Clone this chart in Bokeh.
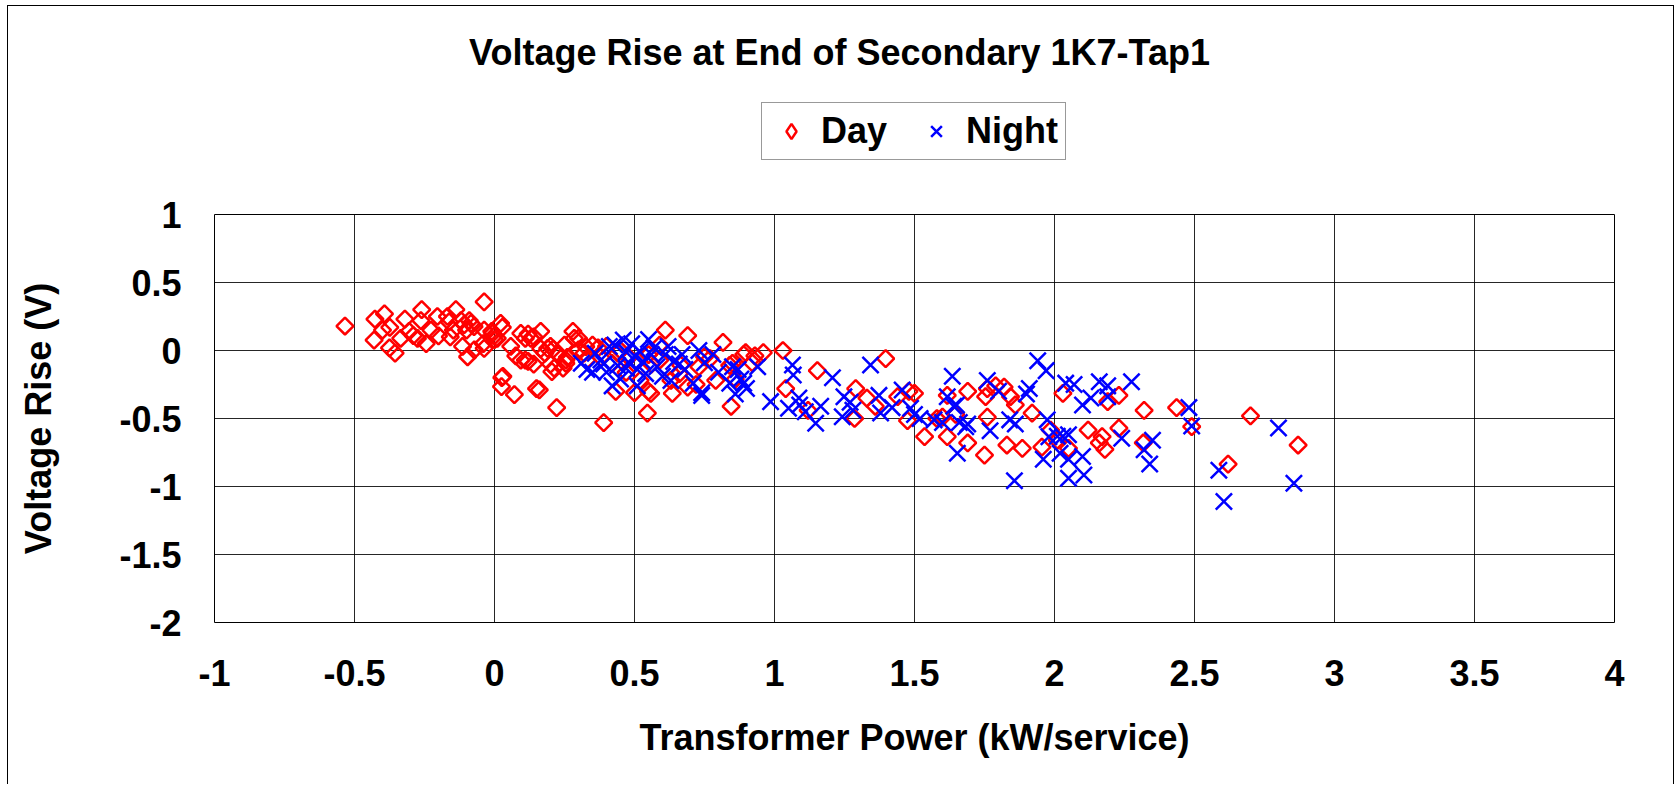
import math
from bokeh.plotting import figure
from bokeh.layouts import column
from bokeh.models import FixedTicker, CustomJSTickFormatter, Legend, LegendItem, Label
from bokeh.embed import file_html
from bokeh.resources import INLINE

# ---------------- data ----------------
title_text = "Voltage Rise at End of Secondary 1K7-Tap1"
x_title = "Transformer Power (kW/service)"
y_title = "Voltage Rise (V)"
series_names = ["Day", "Night"]

x_ticks = [-1, -0.5, 0, 0.5, 1, 1.5, 2, 2.5, 3, 3.5, 4]
x_tick_labels = ["-1", "-0.5", "0", "0.5", "1", "1.5", "2", "2.5", "3", "3.5", "4"]
y_ticks = [-2, -1.5, -1, -0.5, 0, 0.5, 1]
y_tick_labels = ["-2", "-1.5", "-1", "-0.5", "0", "0.5", "1"]

day_x = [-0.534, -0.427, -0.393, -0.43, -0.40, -0.374, -0.375, -0.355, -0.32, -0.335,
         -0.305, -0.29, -0.26, -0.263, -0.275, -0.244, -0.227, -0.204, -0.20, -0.168,
         -0.158, -0.162, -0.147, -0.138, -0.12, -0.108, -0.114, -0.10, -0.096, -0.09,
         -0.084, -0.073, -0.072, -0.04, -0.037, -0.037, -0.037, -0.01, -0.007,
         0.0, 0.01, 0.022, 0.028, 0.0, 0.026, 0.025, 0.071, 0.058, 0.076, 0.094,
         0.11, 0.094, 0.11, 0.12, 0.13, 0.14, 0.14, 0.16, 0.165, 0.165,
         0.18, 0.19, 0.20, 0.20, 0.205, 0.213, 0.222, 0.21, 0.226, 0.25,
         0.255, 0.245, 0.26, 0.28, 0.285, 0.30, 0.30, 0.255, 0.12, 0.15, 0.03,
         0.326, 0.32, 0.35, 0.40, 0.44, 0.42, 0.39, 0.433, 0.50, 0.47,
         0.55, 0.546, 0.61, 0.69, 0.635, 0.66, 0.69, 0.75, 0.73, 0.816,
         0.85, 0.89, 0.93, 0.86, 0.845, 0.897, 0.96, 1.03, 0.92, 0.79,
         0.77, 0.84, 0.665, 0.37, 0.59, 0.59, 0.55, 0.45, 0.38, 0.33,
         0.558, 0.52, 0.63, 0.72, 0.48, 0.56,
         1.04, 1.153, 1.397, 1.29, 1.286, 1.36, 1.44, 1.50, 1.475, 1.536,
         1.617, 1.69, 1.69, 1.75, 1.754, 1.76, 1.647, 1.60, 1.617, 1.79,
         1.76, 1.82, 1.843, 1.86, 1.92, 1.83, 1.885, 1.955, 1.986, 2.03,
         2.01, 2.05, 2.12, 2.17, 2.16, 2.18, 2.19, 2.23, 2.23, 2.32,
         2.317, 2.436, 2.49, 2.62, 2.70, 2.87, 1.33, 1.48, 1.12, 1.58]
day_y = [0.18, 0.23, 0.27, 0.077, 0.15, 0.17, 0.02, -0.02, 0.23, 0.09,
         0.14, 0.11, 0.30, 0.22, 0.09, 0.05, 0.15, 0.25, 0.107, 0.25,
         0.10, 0.21, 0.15, 0.30, 0.22, 0.19, 0.03, 0.15, -0.046, 0.22,
         0.20, 0.175, 0.004, 0.05, 0.357, 0.15, 0.016, 0.14, 0.126,
         0.11, 0.09, 0.20, 0.17, 0.08, -0.20, -0.266, -0.325, 0.03, -0.04, 0.126,
         0.09, -0.07, -0.07, 0.12, 0.09, -0.10, 0.10, -0.29, 0.14, 0.013,
         -0.02, 0.016, 0.03, -0.10, -0.156, -0.13, -0.42, 0.01, -0.02, 0.04,
         -0.094, -0.13, -0.05, 0.14, 0.09, 0.09, 0.005, -0.07, -0.08, -0.28, -0.19,
         0.028, -0.02, 0.04, 0.03, -0.02, -0.094, -0.53, -0.30, -0.31, -0.16,
         -0.30, -0.46, 0.15, 0.11, -0.315, -0.17, -0.27, -0.046, -0.12, 0.06,
         -0.094, -0.03, -0.04, -0.21, -0.41, -0.016, -0.016, 0.0, -0.09, -0.22,
         -0.06, -0.11, -0.107, 0.02, 0.04, -0.07, -0.03, 0.0, -0.05, -0.07,
         -0.315, -0.22, -0.22, -0.25, -0.05, -0.10,
         -0.28, -0.148, -0.06, -0.28, -0.50, -0.41, -0.34, -0.315, -0.516, -0.634,
         -0.634, -0.30, -0.68, -0.77, -0.34, -0.49, -0.47, -0.49, -0.33, -0.26,
         -0.28, -0.27, -0.34, -0.40, -0.46, -0.695, -0.72, -0.71, -0.585, -0.315,
         -0.66, -0.72, -0.585, -0.634, -0.68, -0.727, -0.376, -0.33, -0.57, -0.44,
         -0.68, -0.42, -0.56, -0.835, -0.48, -0.695, -0.35, -0.30, -0.44, -0.50]

night_x = [0.31, 0.33, 0.36, 0.38, 0.40, 0.41, 0.46, 0.47, 0.48, 0.49,
           0.50, 0.51, 0.52, 0.53, 0.55, 0.56, 0.58, 0.61, 0.63, 0.64,
           0.67, 0.68, 0.71, 0.74, 0.75, 0.78, 0.80, 0.84, 0.85, 0.88,
           0.90, 0.86, 0.35, 0.45, 0.51, 0.42, 0.73, 0.87, 0.89, 0.94,
           0.74, 0.44, 0.54, 0.60, 0.66, 0.57, 0.62, 0.43, 0.39, 0.47,
           0.986, 1.064, 1.067, 1.087, 1.05, 1.11, 1.147, 1.165, 1.207, 1.248,
           1.27, 1.242, 1.343, 1.373, 1.379, 1.456, 1.486, 1.50, 1.635, 1.617,
           1.65, 1.653, 1.683, 1.66, 1.60, 1.76, 1.77, 1.57, 1.94, 1.97,
           1.80, 1.91, 1.90, 2.04, 2.07, 2.16, 2.19, 2.275, 2.10, 2.13,
           2.19, 1.64, 1.69, 1.84, 1.86, 1.974, 1.98, 2.01, 2.03, 2.05,
           1.96, 2.02, 2.05, 2.10, 2.105, 2.05, 1.857, 2.24, 2.32, 2.34,
           2.35, 2.48, 2.49, 2.587, 2.605, 2.80, 2.855, 1.09, 1.28, 1.42, 1.52]
night_y = [-0.094, -0.14, -0.02, -0.07, -0.16, 0.03, 0.077, -0.01, -0.09, 0.05,
           -0.04, -0.14, -0.01, -0.08, 0.08, -0.03, -0.12, -0.03, -0.22, -0.08,
           -0.03, -0.14, -0.24, -0.31, -0.09, -0.03, -0.16, -0.24, -0.12, -0.21,
           -0.28, -0.32, -0.16, -0.21, -0.26, -0.26, 0.0, -0.14, -0.24, -0.12,
           -0.33, -0.11, -0.17, -0.19, -0.10, 0.02, 0.03, 0.04, -0.10, -0.13,
           -0.376, -0.107, -0.18, -0.35, -0.425, -0.45, -0.535, -0.41, -0.20, -0.34,
           -0.38, -0.487, -0.107, -0.33, -0.46, -0.29, -0.425, -0.47, -0.19, -0.34,
           -0.40, -0.756, -0.56, -0.53, -0.53, -0.22, -0.59, -0.51, -0.075, -0.148,
           -0.30, -0.28, -0.32, -0.24, -0.25, -0.23, -0.26, -0.23, -0.40, -0.35,
           -0.34, -0.41, -0.54, -0.51, -0.54, -0.51, -0.634, -0.63, -0.63, -0.62,
           -0.80, -0.756, -0.80, -0.78, -0.915, -0.94, -0.957, -0.646, -0.73, -0.835,
           -0.66, -0.42, -0.555, -0.88, -1.11, -0.57, -0.976, -0.40, -0.44, -0.42, -0.50]

# ---------------- layout constants ----------------
FONT = "Liberation Sans"
W = 1665
LEFT_B = 206
RIGHT_B = 59
FRAME_W = W - LEFT_B - RIGHT_B
TOP_H = 178
MAIN_H = 600

# ---------------- header (title + legend) ----------------
# the column aligns this header's frame with the scatter's frame, so its
# coordinates are pixels measured from the left edge of the plot area
top = figure(width=W, height=TOP_H, x_range=(0, FRAME_W), y_range=(TOP_H, 0),
             x_axis_type=None, y_axis_type=None,
             min_border_left=LEFT_B, min_border_right=RIGHT_B,
             min_border_top=0, min_border_bottom=0,
             output_backend="svg", toolbar_location=None)
top.outline_line_color = None
top.background_fill_color = "white"
top.border_fill_color = "white"
top.xgrid.visible = False
top.ygrid.visible = False

top.add_layout(Label(x=625, y=46, text=title_text, text_align="center",
                     text_baseline="middle", text_font=FONT, text_font_size="36px",
                     text_font_style="bold", text_color="black"))

k_day = top.scatter([float("nan")], [float("nan")], marker="diamond",
                    fill_color=None, line_color="red", line_width=2.5)
k_night = top.scatter([float("nan")], [float("nan")], marker="x",
                      line_color="blue", line_width=2.5)
legend = Legend(
    items=[LegendItem(label=series_names[0], renderers=[k_day]),
           LegendItem(label=series_names[1], renderers=[k_night])],
    orientation="horizontal",
    location=(547, 24),
    label_text_font=FONT, label_text_font_size="36px", label_text_font_style="bold",
    label_text_color="black",
    border_line_color="#333333", border_line_width=1.5,
    background_fill_color="white", background_fill_alpha=1.0,
    padding=7, spacing=27, label_standoff=8, glyph_width=44, glyph_height=38,
    margin=0,
)
top.add_layout(legend, "center")

# ---------------- main scatter ----------------
p = figure(
    width=W, height=MAIN_H,
    min_border_left=LEFT_B, min_border_right=RIGHT_B,
    min_border_top=30, min_border_bottom=162,
    x_range=(-1, 4), y_range=(-2, 1),
    output_backend="svg", toolbar_location=None,
)
p.background_fill_color = "white"
p.border_fill_color = "white"
p.outline_line_color = "black"
p.outline_line_width = 1

JS = "const i = tvals.findIndex(t => Math.abs(t - tick) < 1e-9); return i >= 0 ? tlabels[i] : '';"
fmt_x = CustomJSTickFormatter(args=dict(tvals=x_ticks, tlabels=x_tick_labels), code=JS)
fmt_y = CustomJSTickFormatter(args=dict(tvals=y_ticks, tlabels=y_tick_labels), code=JS)

for ax, ticks, fmt in ((p.xaxis[0], x_ticks, fmt_x), (p.yaxis[0], y_ticks, fmt_y)):
    ax.ticker = FixedTicker(ticks=ticks)
    ax.formatter = fmt
    ax.major_tick_in = 0
    ax.major_tick_out = 0
    ax.minor_tick_in = 0
    ax.minor_tick_out = 0
    ax.axis_line_color = None
    ax.major_label_text_font = FONT
    ax.major_label_text_font_size = "36px"
    ax.major_label_text_font_style = "bold"
    ax.major_label_text_color = "black"
    ax.axis_label_text_font = FONT
    ax.axis_label_text_font_size = "36px"
    ax.axis_label_text_font_style = "bold"
    ax.axis_label_text_color = "black"

p.xaxis[0].axis_label = x_title
p.yaxis[0].axis_label = y_title
p.xaxis[0].major_label_standoff = 37
p.yaxis[0].major_label_standoff = 33
p.xaxis[0].axis_label_standoff = 28
p.yaxis[0].axis_label_standoff = 57

p.xgrid[0].ticker = FixedTicker(ticks=x_ticks)
p.ygrid[0].ticker = FixedTicker(ticks=y_ticks)
for g in (p.xgrid[0], p.ygrid[0]):
    g.grid_line_color = "black"
    g.grid_line_alpha = 0.85
    g.grid_line_width = 1

p.scatter(day_x, day_y, marker="square", angle=math.pi / 4, size=12,
          fill_color=None, line_color="red", line_width=2.5)
p.scatter(night_x, night_y, marker="x", size=23, line_color="blue", line_width=2.5)

layout = column(top, p, spacing=0)
layout.styles = {"margin-left": "7px", "margin-top": "5px",
                 "border-left": "1px solid #000", "border-top": "1px solid #000",
                 "border-right": "1px solid #000"}

open("out.html", "w").write(file_html(layout, INLINE))
